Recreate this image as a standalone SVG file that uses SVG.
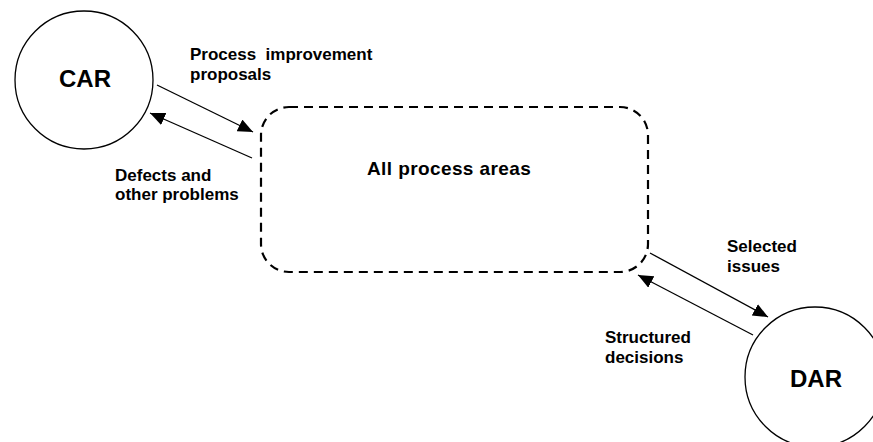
<svg xmlns="http://www.w3.org/2000/svg" width="873" height="442" viewBox="0 0 873 442">
<defs>
<style>
.node{fill:#fff;stroke:#000;stroke-width:1.3}
.big{font-family:"Liberation Sans",Arial,sans-serif;font-weight:bold;font-size:24px;fill:#000}
.lbl{font-family:"Liberation Sans",Arial,sans-serif;font-weight:bold;font-size:17px;fill:#000}
.main{font-family:"Liberation Sans",Arial,sans-serif;font-weight:bold;font-size:19px;letter-spacing:0.4px;fill:#000}
.conn{stroke:#000;stroke-width:1.3;fill:none;marker-end:url(#ah)}
</style>
<marker id="ah" markerUnits="userSpaceOnUse" markerWidth="16" markerHeight="14" refX="15" refY="6.5" orient="auto">
<path d="M0,0 L15,6.5 L0,13 z" fill="#000"/>
</marker>
</defs>
<rect width="873" height="442" fill="#fff"/>
<g id="all-process-areas">
<rect x="261" y="107" width="387" height="165" rx="28" ry="28" fill="none" stroke="#000" stroke-width="2.2" stroke-dasharray="9 6"/>
<text class="main" x="367" y="175">All process areas</text>
</g>
<g id="car">
<circle class="node" cx="84" cy="80" r="69"/>
<text class="big" x="85" y="87" text-anchor="middle">CAR</text>
</g>
<g id="dar">
<circle class="node" cx="815" cy="377" r="70"/>
<text class="big" x="816" y="387" text-anchor="middle">DAR</text>
</g>
<g id="connectors">
<line class="conn" x1="157" y1="85" x2="253" y2="132"/>
<line class="conn" x1="252" y1="158" x2="150" y2="113"/>
<line class="conn" x1="650" y1="253" x2="768" y2="317"/>
<line class="conn" x1="753" y1="335" x2="638" y2="275"/>
</g>
<g id="labels">
<text class="lbl" x="190" y="60" xml:space="preserve">Process  improvement</text>
<text class="lbl" x="190" y="80">proposals</text>
<text class="lbl" x="115" y="181">Defects and</text>
<text class="lbl" x="115" y="200">other problems</text>
<text class="lbl" x="727" y="252">Selected</text>
<text class="lbl" x="727" y="272">issues</text>
<text class="lbl" x="605" y="343">Structured</text>
<text class="lbl" x="605" y="363">decisions</text>
</g>
</svg>
